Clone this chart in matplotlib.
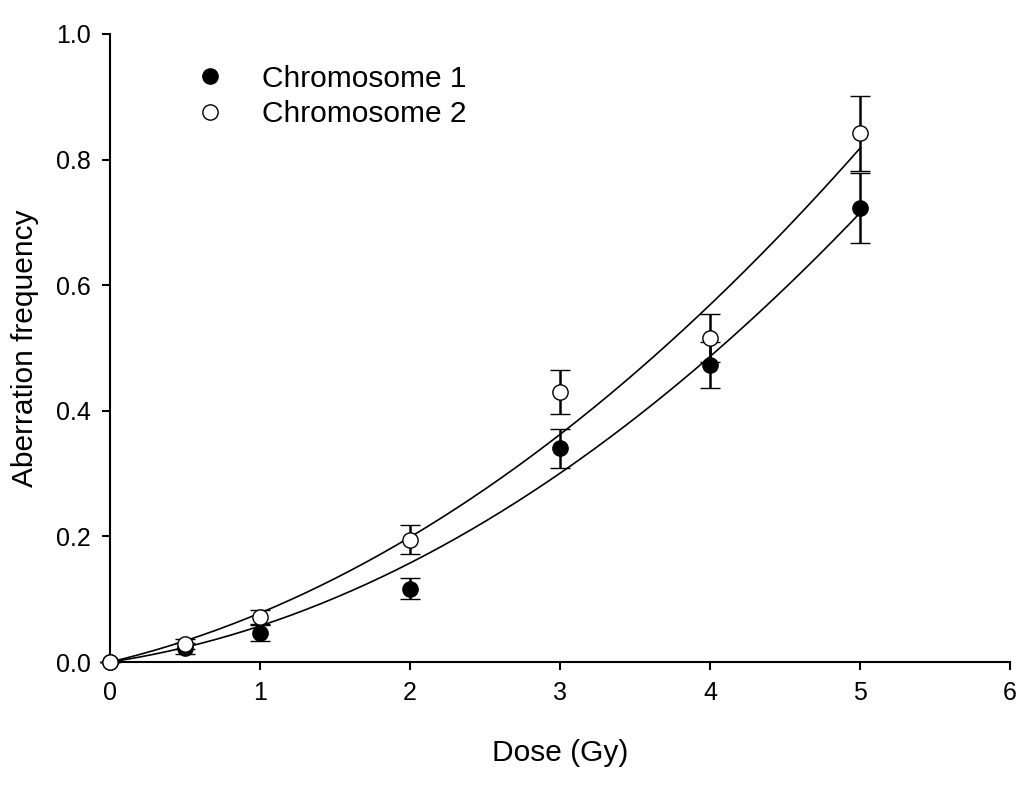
import numpy as np
import matplotlib
matplotlib.use("Agg")
import matplotlib.pyplot as plt
from matplotlib import rcParams

# Data
dose = [0, 0.5, 1, 2, 3, 4, 5]
chrom1 = [0, 0.022, 0.047, 0.117, 0.340, 0.473, 0.723]
chrom1_err = [0, 0.009, 0.013, 0.017, 0.031, 0.037, 0.056]
chrom2 = [0, 0.028, 0.071, 0.195, 0.430, 0.516, 0.842]
chrom2_err = [0, 0.008, 0.012, 0.023, 0.035, 0.038, 0.060]

# Linear-quadratic fit coefficients (Y = a*D + b*D^2)
fit1 = (0.036, 0.0214)
fit2 = (0.0566, 0.0214)

rcParams["font.family"] = ["Liberation Sans", "DejaVu Sans"]

fig = plt.figure(figsize=(10.33, 7.87), dpi=100)
ax = fig.add_axes([0.1065, 0.1588, 0.8712, 0.798])

# Fitted curves
d = np.linspace(0, 5, 200)
ax.plot(d, fit1[0] * d + fit1[1] * d ** 2, color="black", lw=1.2, zorder=2)
ax.plot(d, fit2[0] * d + fit2[1] * d ** 2, color="black", lw=1.2, zorder=2)

# Data points with error bars
ax.errorbar(dose, chrom1, yerr=chrom1_err, fmt="o", color="black", mfc="black",
            mec="black", ms=11, mew=1, ecolor="black", elinewidth=1.8,
            capsize=7.5, capthick=1.8, clip_on=False, zorder=3, label="Chromosome 1")
ax.errorbar(dose, chrom2, yerr=chrom2_err, fmt="o", color="black", mfc="white",
            mec="black", ms=11, mew=1, ecolor="black", elinewidth=1.8,
            capsize=7.5, capthick=1.8, clip_on=False, zorder=4, label="Chromosome 2")

# Axes styling
ax.set_xlim(0, 6)
ax.set_ylim(0, 1.0)
ax.set_xticks([0, 1, 2, 3, 4, 5, 6])
ax.set_yticks([0.0, 0.2, 0.4, 0.6, 0.8, 1.0])
ax.set_yticklabels(["0.0", "0.2", "0.4", "0.6", "0.8", "1.0"])
ax.spines["top"].set_visible(False)
ax.spines["right"].set_visible(False)
ax.spines["left"].set_linewidth(1.5)
ax.spines["bottom"].set_linewidth(1.5)
ax.tick_params(direction="out", length=6, width=1.5, labelsize=18, pad=8)

ax.set_xlabel("Dose (Gy)", fontsize=21.5, labelpad=24)
ax.set_ylabel("Aberration frequency", fontsize=21.5, labelpad=12)

# Legend (markers only, no frame)
handles, labels = ax.get_legend_handles_labels()
leg_handles = [h[0] for h in handles]
ax.legend(leg_handles, labels, loc="upper left", bbox_to_anchor=(0.078, 0.951),
          frameon=False, fontsize=21.5, borderpad=0, handlelength=2,
          handletextpad=0.74, labelspacing=0.25, borderaxespad=0)

fig.savefig("out.png", dpi=100)
